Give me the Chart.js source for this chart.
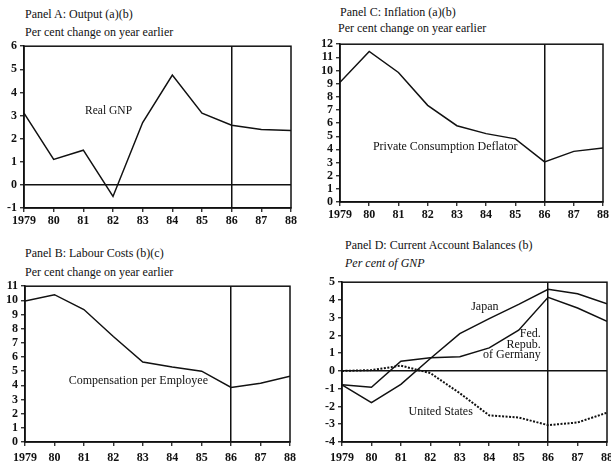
<!DOCTYPE html>
<html>
<head>
<meta charset="utf-8">
<script src="https://cdn.jsdelivr.net/npm/chart.js@4.4.0/dist/chart.umd.min.js"></script>
<style>
  html, body { margin: 0; padding: 0; background: #fff; width: 611px; height: 461px; overflow: hidden; }
  body { position: relative; font-family: "Liberation Serif", "DejaVu Serif", serif; color: #111; }
  .t { position: absolute; font-size: 12px; white-space: nowrap; line-height: 1; }
  .wrap { position: absolute; }
</style>
</head>
<body>
<div class="t" style="left:25px;top:8px;">Panel A: Output (a)(b)</div>
<div class="t" style="left:25px;top:26px;">Per cent change on year earlier</div>
<div class="t" style="left:340px;top:6px;">Panel C: Inflation (a)(b)</div>
<div class="t" style="left:338px;top:22px;">Per cent change on year earlier</div>
<div class="t" style="left:25px;top:247px;">Panel B: Labour Costs (b)(c)</div>
<div class="t" style="left:25px;top:266px;">Per cent change on year earlier</div>
<div class="t" style="left:345px;top:239px;">Panel D: Current Account Balances (b)</div>
<div class="t" style="left:345px;top:257px;font-style:italic;">Per cent of GNP</div>

<div class="wrap" style="left:0px;top:36px;width:305px;height:194px;"><canvas id="cA"></canvas></div>
<div class="wrap" style="left:305px;top:34px;width:306px;height:194px;"><canvas id="cC"></canvas></div>
<div class="wrap" style="left:0px;top:276px;width:305px;height:192px;"><canvas id="cB"></canvas></div>
<div class="wrap" style="left:305px;top:272px;width:320px;height:196px;"><canvas id="cD"></canvas></div>

<script>
// ---- data ----
const years = [1979, 1980, 1981, 1982, 1983, 1984, 1985, 1986, 1987, 1988];
const yearTickLabels = ['1979', '80', '81', '82', '83', '84', '85', '86', '87', '88'];

const realGNP = [3.1, 1.1, 1.5, -0.5, 2.7, 4.75, 3.1, 2.58, 2.4, 2.35];
const privateConsumptionDeflator = [9.1, 11.45, 9.85, 7.35, 5.8, 5.2, 4.8, 3.05, 3.85, 4.1];
const compensationPerEmployee = [9.95, 10.4, 9.35, 7.45, 5.65, 5.3, 5.0, 3.85, 4.15, 4.65];
const japan = [-0.78, -1.78, -0.75, 0.7, 2.1, 2.95, 3.75, 4.6, 4.35, 3.78];
const germany = [-0.78, -0.92, 0.55, 0.75, 0.8, 1.3, 2.3, 4.15, 3.55, 2.8];
const unitedStates = [0.0, 0.05, 0.3, -0.12, -1.25, -2.5, -2.62, -3.05, -2.9, -2.35];

const yTicksA = [-1, 0, 1, 2, 3, 4, 5, 6];
const yTicksC = [0, 1, 2, 3, 4, 5, 6, 7, 8, 9, 10, 11, 12];
const yTicksB = [0, 1, 2, 3, 4, 5, 6, 7, 8, 9, 10, 11];
const yTicksD = [-4, -3, -2, -1, 0, 1, 2, 3, 4, 5];

const INK = '#111';
const FONT = "'Liberation Serif', 'DejaVu Serif', serif";

function pts(vals) { return years.map((y, i) => ({ x: y, y: vals[i] })); }

const framePlugin = {
  id: 'frame',
  afterDatasetsDraw(chart) {
    const a = chart.chartArea, ctx = chart.ctx;
    ctx.save();
    ctx.strokeStyle = INK;
    ctx.lineWidth = 1.5;
    ctx.strokeRect(a.left, a.top, a.right - a.left, a.bottom - a.top);
    ctx.restore();
  }
};

const labelPlugin = {
  id: 'notes',
  afterDraw(chart, args, opts) {
    const ctx = chart.ctx, xs = chart.scales.x, ys = chart.scales.y;
    ctx.save();
    ctx.fillStyle = INK;
    ctx.textBaseline = 'middle';
    (opts.items || []).forEach(it => {
      ctx.font = (it.size || 12) + 'px ' + FONT;
      ctx.textAlign = it.align || 'center';
      ctx.fillText(it.text, xs.getPixelForValue(it.x), ys.getPixelForValue(it.y));
    });
    ctx.restore();
  }
};

function makeChart(id, datasets, yMin, yMax, yTicks, geom, notes, zeroLine) {
  const yLabels = yTicks.map(String);
  return new Chart(document.getElementById(id), {
    type: 'line',
    data: { datasets },
    options: {
      responsive: true,
      maintainAspectRatio: false,
      animation: false,
      devicePixelRatio: 1,
      layout: { padding: { top: geom.top, right: geom.right, left: 0, bottom: 0 } },
      plugins: { legend: { display: false }, tooltip: { enabled: false }, notes: { items: notes } },
      elements: { point: { radius: 0 }, line: { tension: 0 } },
      scales: {
        x: {
          type: 'linear', min: 1979, max: 1988,
          afterFit(s) { s.height = geom.xh; },
          afterBuildTicks(s) { s.ticks = years.map(v => ({ value: v })); },
          ticks: {
            autoSkip: false, maxRotation: 0, padding: geom.xpad,
            color: INK, font: { family: FONT, size: 12, weight: 'bold' },
            callback(v) { const i = years.indexOf(v); return i >= 0 ? yearTickLabels[i] : ''; }
          },
          grid: {
            color: c => (c.tick && c.tick.value === 1986) ? INK : 'rgba(0,0,0,0)',
            lineWidth: 1.5, tickColor: INK, tickLength: 4, tickWidth: 1.2
          },
          border: { display: true, color: INK, width: 1.5 }
        },
        y: {
          type: 'linear', min: yMin, max: yMax,
          afterFit(s) { s.width = geom.yw; },
          afterBuildTicks(s) { s.ticks = yTicks.map(v => ({ value: v })); },
          ticks: {
            autoSkip: false, padding: 3,
            color: INK, font: { family: FONT, size: 12, weight: 'bold' },
            callback(v) { const i = yTicks.indexOf(v); return i >= 0 ? yLabels[i] : ''; }
          },
          grid: {
            color: c => (zeroLine && c.tick && c.tick.value === 0) ? INK : 'rgba(0,0,0,0)',
            lineWidth: 1.5, tickColor: INK, tickLength: 4, tickWidth: 1.2
          },
          border: { display: true, color: INK, width: 1.5 }
        }
      }
    },
    plugins: [framePlugin, labelPlugin]
  });
}

const solid = (label, vals) => ({ label, data: pts(vals), borderColor: INK, borderWidth: 1.5, fill: false });

makeChart('cA', [solid('Real GNP', realGNP)], -1, 6, yTicksA,
  { top: 8, right: 14, xh: 22, yw: 24, xpad: 2 },
  [{ text: 'Real GNP', x: 1981.85, y: 3.2, size: 11.5 }], true);

makeChart('cC', [solid('Private Consumption Deflator', privateConsumptionDeflator)], 0, 12, yTicksC,
  { top: 8, right: 8, xh: 26, yw: 35, xpad: 2 },
  [{ text: 'Private Consumption Deflator', x: 1982.6, y: 4.2 }], false);

makeChart('cB', [solid('Compensation per Employee', compensationPerEmployee)], 0, 11, yTicksB,
  { top: 7, right: 15, xh: 26, yw: 25, xpad: 5 },
  [{ text: 'Compensation per Employee', x: 1982.85, y: 4.3 }], false);

makeChart('cD', [
    solid('Japan', japan),
    solid('Fed. Repub. of Germany', germany),
    { label: 'United States', data: pts(unitedStates), borderColor: INK, borderWidth: 2, borderDash: [2, 1.5], fill: false }
  ], -4, 5, yTicksD,
  { top: 7, right: 18, xh: 26, yw: 37, xpad: 5 },
  [
    { text: 'Japan', x: 1983.85, y: 3.6 },
    { text: 'Fed.', x: 1985.75, y: 2.1, align: 'right' },
    { text: 'Repub.', x: 1985.75, y: 1.5, align: 'right' },
    { text: 'of Germany', x: 1985.75, y: 0.9, align: 'right' },
    { text: 'United States', x: 1982.35, y: -2.3 }
  ], true);
</script>
</body>
</html>
